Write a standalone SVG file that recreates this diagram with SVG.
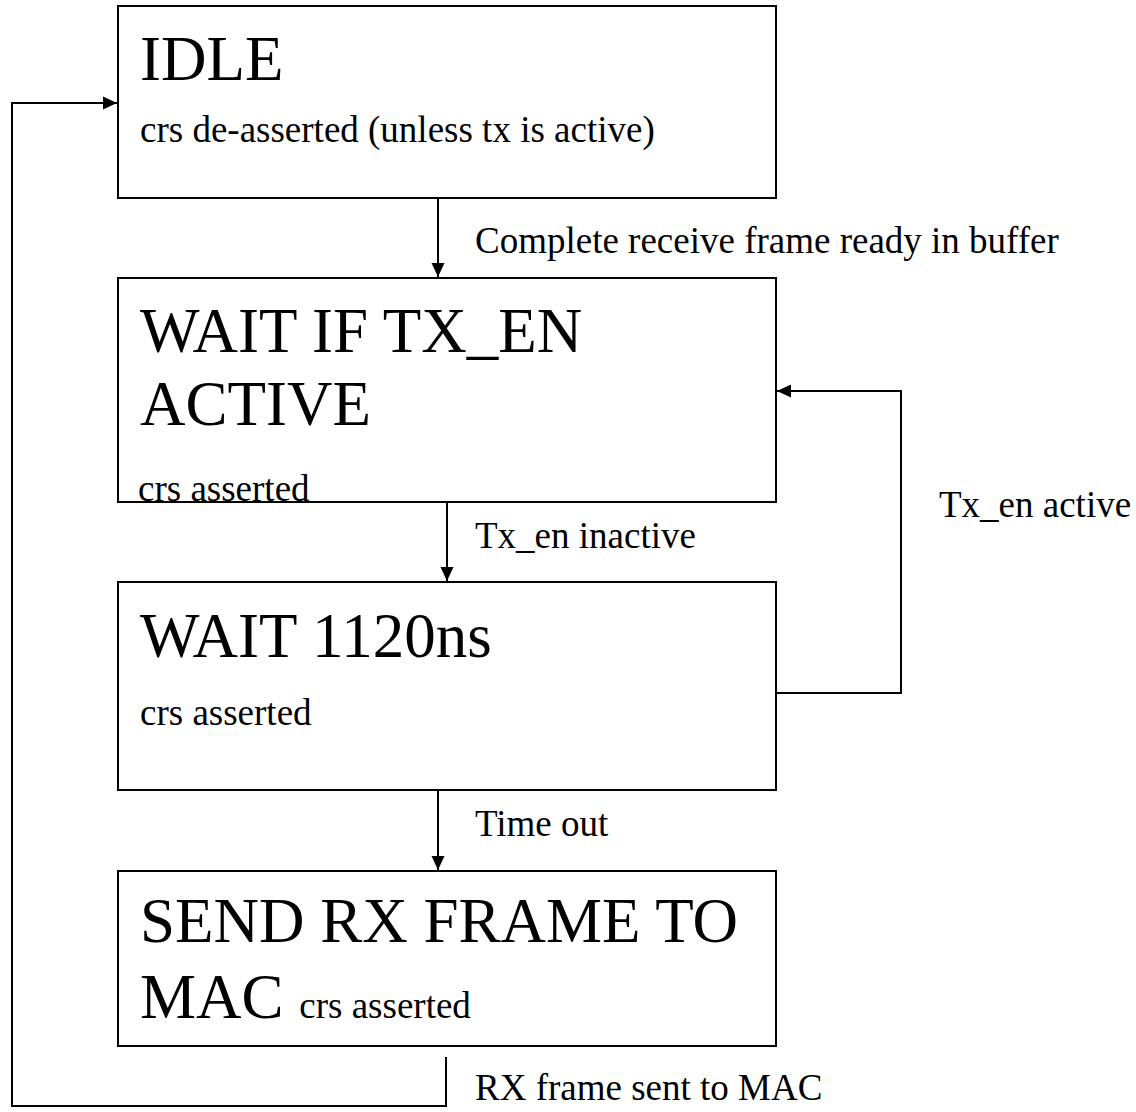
<svg xmlns="http://www.w3.org/2000/svg" width="1136" height="1112" viewBox="0 0 1136 1112">
<defs>
<marker id="arr" markerWidth="14" markerHeight="14" refX="14" refY="7" orient="auto" markerUnits="userSpaceOnUse">
<path d="M0,0.5 L14,7 L0,13.5 Z" fill="#000"/>
</marker>
<style>
.box{fill:#fff;stroke:#000;stroke-width:2}
.big{font-family:"Liberation Serif","Times New Roman",serif;font-size:63px;fill:#000}
.sm{font-family:"Liberation Serif","Times New Roman",serif;font-size:37px;fill:#000}
.lbl{font-family:"Liberation Serif","Times New Roman",serif;font-size:37px;fill:#000}
.con{fill:none;stroke:#000;stroke-width:2}
</style>
</defs>
<rect width="1136" height="1112" fill="#fff"/>
<g id="connectors">
<path class="con" d="M438,198 V277" marker-end="url(#arr)"/>
<path class="con" d="M447,502 V581" marker-end="url(#arr)"/>
<path class="con" d="M776,693 H901 V391 H777" marker-end="url(#arr)"/>
<path class="con" d="M438,790 V870" marker-end="url(#arr)"/>
<path class="con" d="M446,1057 V1106 H12 V103 H117" marker-end="url(#arr)"/>
<text class="lbl" x="475" y="253">Complete receive frame ready in buffer</text>
<text class="lbl" x="475" y="548">Tx_en inactive</text>
<text class="lbl" x="939" y="517">Tx_en active</text>
<text class="lbl" x="475" y="836">Time out</text>
<text class="lbl" x="475" y="1100">RX frame sent to MAC</text>
</g>
<g id="idle">
<rect class="box" x="118" y="6" width="658" height="192"/>
<text class="big" x="140" y="80">IDLE</text>
<text class="sm" x="140" y="142">crs de-asserted (unless tx is active)</text>
</g>
<g id="wait-tx-en">
<rect class="box" x="118" y="278" width="658" height="224"/>
<text class="big" x="140" y="352">WAIT IF TX_EN</text>
<text class="big" x="140" y="425">ACTIVE</text>
<text class="sm" x="138" y="501">crs asserted</text>
</g>
<g id="wait-1120">
<rect class="box" x="118" y="582" width="658" height="208"/>
<text class="big" x="140" y="657">WAIT 1120ns</text>
<text class="sm" x="140" y="725">crs asserted</text>
</g>
<g id="send-rx">
<rect class="box" x="118" y="871" width="658" height="175"/>
<text class="big" x="140" y="942">SEND RX FRAME TO</text>
<text class="big" x="140" y="1018">MAC <tspan class="sm">crs asserted</tspan></text>
</g>
</svg>
